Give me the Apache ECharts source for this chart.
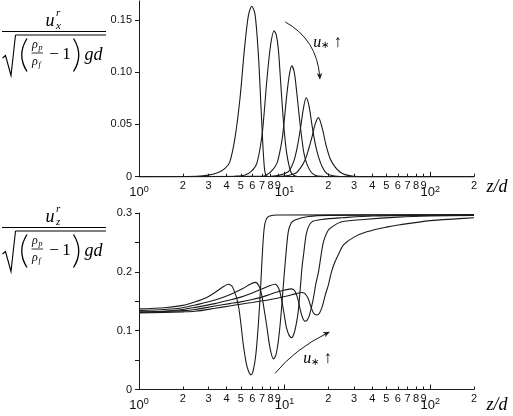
<!DOCTYPE html>
<html>
<head>
<meta charset="utf-8">
<title>particle velocity profiles</title>
<script src="https://cdn.jsdelivr.net/npm/echarts@6/dist/echarts.min.js"></script>
<style>
html, body { margin: 0; padding: 0; background: #fff; }
#main { width: 513px; height: 416px; }
</style>
</head>
<body>
<div id="main"></div>
<script>
// values: [z/d, velocity]
var ux1 = [[1,0],[2.5,0.0005],[3,0.0015],[3.5,0.004],[3.9,0.008],[4.2,0.014],[4.57,0.0376],[4.94,0.075],[5.3,0.122],[5.64,0.154],[5.95,0.163],[6.27,0.155],[6.61,0.116],[6.89,0.066],[7.15,0.022],[7.34,0.004],[7.6,0.0005],[9,0],[200,0]];
var ux2 = [[1,0],[4.5,0.0003],[5.35,0.0016],[5.9,0.005],[6.44,0.0125],[6.97,0.0376],[7.25,0.062],[7.54,0.091],[8.0,0.125],[8.47,0.1395],[8.75,0.136],[9.06,0.122],[9.35,0.095],[9.66,0.066],[10.0,0.04],[10.35,0.022],[10.8,0.009],[11.2,0.003],[12,0.0005],[14,0],[200,0]];
var ux3 = [[1,0],[6.5,0.0003],[7.34,0.001],[8.1,0.005],[8.84,0.0125],[9.25,0.023],[9.66,0.0376],[10.0,0.057],[10.35,0.078],[10.8,0.098],[11.2,0.106],[11.65,0.1],[12.1,0.0815],[12.6,0.058],[13.1,0.0376],[13.6,0.022],[14.2,0.0125],[15.1,0.005],[16.2,0.0015],[18,0.0003],[22,0],[200,0]];
var ux4 = [[1,0],[8,0.0005],[9.3,0.0015],[10.6,0.0047],[11.2,0.01],[11.8,0.0188],[12.4,0.033],[12.98,0.05],[13.5,0.066],[14.06,0.0755],[14.7,0.068],[15.4,0.05],[16.2,0.032],[17.1,0.019],[18.2,0.009],[19.5,0.003],[22,0.0006],[28,0],[200,0]];
var ux5 = [[1,0],[9.5,0.0005],[11.8,0.003],[12.8,0.008],[13.8,0.0157],[14.6,0.026],[15.4,0.0376],[16.2,0.05],[17.07,0.0565],[18.1,0.047],[19.2,0.031],[20.6,0.017],[22.2,0.0094],[24,0.0045],[26,0.002],[30,0.0005],[40,0],[200,0]];

var uz1 = [[1,0.137],[1.5,0.139],[2,0.143],[2.43,0.149],[2.9,0.156],[3.33,0.165],[3.7,0.173],[4.11,0.179],[4.4,0.174],[4.81,0.1436],[5.21,0.0756],[5.45,0.045],[5.64,0.032],[5.88,0.025],[6.1,0.033],[6.35,0.06],[6.6,0.11],[6.85,0.175],[7.05,0.235],[7.25,0.275],[7.5,0.29],[7.9,0.295],[9,0.2966],[200,0.2968]];
var uz2 = [[1,0.134],[1.5,0.136],[2,0.139],[2.43,0.1436],[3.33,0.152],[4.2,0.161],[5.2,0.172],[5.8,0.179],[6.3,0.182],[6.7,0.175],[6.97,0.16],[7.25,0.135],[7.54,0.108],[7.95,0.07],[8.38,0.052],[8.7,0.058],[8.98,0.0756],[9.3,0.108],[9.57,0.1436],[9.9,0.19],[10.2,0.228],[10.6,0.268],[11.1,0.283],[11.8,0.288],[14.6,0.294],[20,0.296],[200,0.2968]];
var uz3 = [[1,0.132],[1.5,0.133],[2,0.136],[2.43,0.1396],[3.33,0.146],[4.2,0.152],[5,0.157],[6,0.164],[7,0.171],[7.8,0.176],[8.6,0.179],[9.1,0.172],[9.5,0.155],[9.9,0.13],[10.3,0.105],[10.75,0.092],[11.2,0.088],[11.7,0.098],[12.1,0.115],[12.4,0.132],[12.8,0.17],[13.2,0.21],[13.5,0.229],[14.2,0.268],[15.4,0.285],[18,0.289],[25,0.292],[40,0.295],[200,0.2968]];
var uz4 = [[1,0.131],[2,0.134],[2.43,0.136],[3.33,0.142],[4.2,0.146],[5,0.149],[6,0.153],[7,0.157],[8,0.162],[9,0.166],[10,0.169],[11.2,0.171],[11.8,0.167],[12.3,0.155],[12.7,0.14],[13.2,0.124],[13.8,0.116],[14.3,0.118],[14.8,0.126],[15.3,0.14],[15.8,0.156],[16.4,0.18],[17.1,0.2],[17.8,0.228],[18.5,0.251],[20,0.271],[22,0.279],[24.7,0.285],[35,0.289],[60,0.293],[100,0.295],[200,0.296]];
var uz5 = [[1,0.13],[2,0.132],[2.43,0.133],[3.33,0.138],[4.2,0.142],[5,0.145],[6,0.148],[8,0.153],[10,0.158],[12,0.163],[13.1,0.165],[13.8,0.163],[14.5,0.155],[15.1,0.142],[15.8,0.13],[16.6,0.1266],[17.4,0.13],[18.2,0.142],[19,0.16],[20,0.178],[21,0.2],[22.2,0.217],[23.8,0.233],[25.4,0.246],[30,0.259],[36.7,0.268],[50,0.276],[62,0.28],[100,0.287],[150,0.29],[200,0.292]];

var xMinorTicks = [2,3,4,5,6,7,8,9,20,30,40,50,60,70,80,90,200];
var xMajorTicks = [1,10,100];
var yTopTicks = [0,0.05,0.1,0.15];
var yBotTicks = [0,0.1,0.2,0.3];

var chart = echarts.init(document.getElementById('main'));
var SANS = '"Liberation Sans", Arial, sans-serif';
var SERIF = '"Liberation Serif", serif';
var INK = '#1a1a1a';
var LOG200 = Math.log10(200);

function xAxesFor(g) {
    return [
        // the data axis
        {gridIndex: g, type: 'log', logBase: 10, min: 1, max: 200, position: 'bottom',
         axisLine: {onZero: false, lineStyle: {color: INK, width: 1}},
         axisTick: {show: false}, axisLabel: {show: false}, splitLine: {show: false}},
        // 2..9 ticks, drawn in log10 space
        {gridIndex: g, type: 'value', min: 0, max: LOG200, position: 'bottom',
         axisLine: {show: false}, splitLine: {show: false},
         axisTick: {show: true, inside: true, length: 3, lineStyle: {color: INK},
                    customValues: xMinorTicks.concat(xMajorTicks).map(Math.log10)},
         axisLabel: {customValues: xMinorTicks.map(Math.log10), margin: 4,
                     fontSize: 11, fontFamily: SANS, color: '#111',
                     formatter: function (v) { return String(Math.round(Math.pow(10, v))).charAt(0); }}},
        // decades
        {gridIndex: g, type: 'value', min: 0, max: LOG200, position: 'bottom',
         axisLine: {show: false}, splitLine: {show: false},
         axisTick: {show: true, inside: true, length: 5, lineStyle: {color: INK},
                    customValues: xMajorTicks.map(Math.log10)},
         axisLabel: {customValues: xMajorTicks.map(Math.log10), margin: 8, color: '#111',
                     formatter: function (v) { return '{b|10}{s|' + Math.round(v) + '}'; },
                     rich: {b: {fontSize: 13, fontFamily: SANS, color: '#111'},
                            s: {fontSize: 9, fontFamily: SANS, color: '#111', verticalAlign: 'top', padding: [0, 0, 6, 0]}}}}
    ];
}

function line(data, xi, yi) {
    return {type: 'line', data: data, xAxisIndex: xi, yAxisIndex: yi,
            showSymbol: false, smooth: 0.3, silent: true,
            lineStyle: {color: INK, width: 1.1}};
}

chart.setOption({
    animation: false,
    backgroundColor: '#fff',
    grid: [
        {left: 139, right: 39, top: 1, height: 175.7},
        {left: 139, right: 39, top: 213, height: 176.5}
    ],
    xAxis: xAxesFor(0).concat(xAxesFor(1)),
    yAxis: [
        {gridIndex: 0, type: 'value', min: 0, max: 0.168,
         axisLine: {show: true, onZero: false, lineStyle: {color: INK}}, splitLine: {show: false},
         axisTick: {show: true, length: 4, customValues: yTopTicks, lineStyle: {color: INK}},
         axisLabel: {customValues: yTopTicks, margin: 7, fontSize: 11, fontFamily: SANS, color: '#111',
                     formatter: function (v) { return v === 0 ? '0' : v.toFixed(2); }}},
        {gridIndex: 1, type: 'value', min: 0, max: 0.3, interval: 0.1,
         axisLine: {show: true, onZero: false, lineStyle: {color: INK}}, splitLine: {show: false},
         axisTick: {show: true, length: 4, customValues: yBotTicks, lineStyle: {color: INK}},
         minorTick: {show: true, splitNumber: 2, length: 4, lineStyle: {color: INK}},
         axisLabel: {customValues: yBotTicks, margin: 7, fontSize: 11, fontFamily: SANS, color: '#111',
                     formatter: function (v) { return v === 0 ? '0' : v.toFixed(1); }}}
    ],
    series: [
        line(ux1, 0, 0), line(ux2, 0, 0), line(ux3, 0, 0), line(ux4, 0, 0), line(ux5, 0, 0),
        line(uz1, 3, 1), line(uz2, 3, 1), line(uz3, 3, 1), line(uz4, 3, 1), line(uz5, 3, 1)
    ]
});

// y-axis titles: u^r / sqrt((rho_p/rho_f - 1) g d)
function formula(dy, sub) {
    function t(str, x, y, size, italic, align) {
        return {type: 'text', x: x, y: y + dy, silent: true,
                style: {text: str, font: (italic ? 'italic ' : '') + size + 'px ' + SERIF,
                        fill: '#000', align: align || 'center', verticalAlign: 'middle'}};
    }
    function ln(x1, y1, x2, y2, w) {
        return {type: 'line', silent: true, shape: {x1: x1, y1: y1 + dy, x2: x2, y2: y2 + dy},
                style: {stroke: '#000', lineWidth: w || 1}};
    }
    function paren(xEnd, xMid) {
        return {type: 'bezierCurve', silent: true,
                shape: {x1: xEnd, y1: 38.5 + dy, cpx1: xMid, cpy1: 55 + dy, x2: xEnd, y2: 71.5 + dy},
                style: {stroke: '#000', lineWidth: 1.3, fill: null}};
    }
    return [
        t('u', 50, 21.5, 18, true),
        t('r', 56, 13, 11, true, 'left'),
        t(sub, 56, 26, 11, true, 'left'),
        ln(2, 31.5, 106, 31.5),
        {type: 'polyline', silent: true,
         shape: {points: [[2.5, 58 + dy], [5.5, 55.5 + dy], [11, 75.5 + dy], [15.5, 35 + dy]]},
         style: {stroke: '#000', lineWidth: 1.1, fill: null}},
        ln(15.5, 35, 106, 35),
        paren(27, 16.5),
        t('ρ', 35, 45, 12, true), t('p', 38.5, 48, 8, true, 'left'),
        ln(31.5, 53, 43, 53, 0.8),
        t('ρ', 35, 62, 12, true), t('f', 38.5, 65, 8, true, 'left'),
        t('−', 54, 55, 17, false),
        t('1', 66.5, 55, 17, false),
        paren(73.5, 84),
        t('gd', 93.5, 55, 18, true)
    ];
}

// curved "u* up" arrows, placed in data coordinates
function arrow(sIdx, p0, pc, p1) {
    var a = chart.convertToPixel({seriesIndex: sIdx}, p0);
    var c = chart.convertToPixel({seriesIndex: sIdx}, pc);
    var b = chart.convertToPixel({seriesIndex: sIdx}, p1);
    var dx = b[0] - c[0], dy = b[1] - c[1], L = Math.sqrt(dx * dx + dy * dy);
    var ux = dx / L, uy = dy / L, h = 7, w = 2.8;
    var bx = b[0] - ux * h, by = b[1] - uy * h;
    return [
        {type: 'bezierCurve', silent: true,
         shape: {x1: a[0], y1: a[1], cpx1: c[0], cpy1: c[1], x2: b[0] - ux * 3, y2: b[1] - uy * 3},
         style: {stroke: INK, lineWidth: 1, fill: null}},
        {type: 'polygon', silent: true,
         shape: {points: [[b[0], b[1]], [bx - uy * w, by + ux * w], [b[0] - ux * h * 0.7, b[1] - uy * h * 0.7], [bx + uy * w, by - ux * w]]},
         style: {fill: INK}}
    ];
}
function ustar(sIdx, p) {
    var q = chart.convertToPixel({seriesIndex: sIdx}, p);
    return {type: 'text', x: q[0], y: q[1], silent: true,
            style: {text: '{u|u}{s|∗}{a| ↑}', align: 'center', verticalAlign: 'middle',
                    rich: {u: {font: 'italic 16px ' + SERIF, fill: '#000'},
                           s: {font: '10px ' + SERIF, fill: '#000', verticalAlign: 'bottom'},
                           a: {font: 'italic 17px ' + SERIF, fill: '#000'}}}};
}
function zd(y) {
    return {type: 'text', x: 497, y: y, silent: true,
            style: {text: 'z/d', font: 'italic 18px ' + SERIF, fill: '#000', align: 'center', verticalAlign: 'middle'}};
}

chart.setOption({
    graphic: [].concat(
        formula(0, 'x'),
        formula(196, 'z'),
        arrow(0, [10.1, 0.148], [16.7, 0.131], [17.5, 0.0926]),
        arrow(5, [8.6, 0.0275], [11.8, 0.0688], [20.5, 0.0982]),
        [ustar(0, [19.75, 0.1285]), ustar(5, [16.86, 0.0518]), zd(187), zd(405)]
    )
});
</script>
</body>
</html>
